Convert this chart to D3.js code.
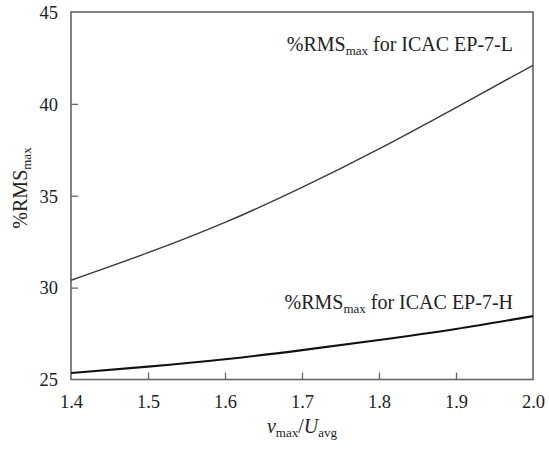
<!DOCTYPE html>
<html>
<head>
<meta charset="utf-8">
<script src="https://cdn.jsdelivr.net/npm/d3@7/dist/d3.min.js"></script>
</head>
<body style="margin:0;padding:0;background:#fff">
<svg id="chart" width="549" height="449" style="display:block"></svg>
<script>
// ---- data ----
const xValues = [1.4, 1.5, 1.6, 1.7, 1.8, 1.9, 2.0];
const seriesL = [30.4, 31.9, 33.55, 35.45, 37.55, 39.8, 42.1];  // ICAC EP-7-L
const seriesH = [25.35, 25.7, 26.1, 26.6, 27.15, 27.75, 28.45]; // ICAC EP-7-H
const xTicks = [1.4, 1.5, 1.6, 1.7, 1.8, 1.9, 2.0];
const yTicks = [25, 30, 35, 40, 45];

const FONT = "Liberation Serif";
const svg = d3.select("#chart");
const mLeft = 71, mRight = 533, mTop = 12, mBottom = 379.5;

const x = d3.scaleLinear().domain([1.4, 2.0]).range([mLeft, mRight]);
const y = d3.scaleLinear().domain([25, 45]).range([mBottom, mTop]);

const frameColor = "#666";

// axes (ticks inward)
const xAxis = d3.axisBottom(x).tickValues(xTicks).tickFormat(d3.format(".1f")).tickSizeInner(-7).tickSizeOuter(0).tickPadding(15);
const yAxis = d3.axisLeft(y).tickValues(yTicks).tickFormat(d3.format("d")).tickSizeInner(-7).tickSizeOuter(0).tickPadding(13);

const gx = svg.append("g").attr("transform", `translate(0,${mBottom})`).call(xAxis);
const gy = svg.append("g").attr("transform", `translate(${mLeft},0)`).call(yAxis);
[gx, gy].forEach(g => {
  g.attr("font-family", FONT).attr("font-size", 18.5);
  g.select(".domain").remove();
  g.selectAll(".tick line").attr("stroke", frameColor).attr("stroke-width", 1.3);
  g.selectAll(".tick text").attr("fill", "#222").style("font-family", FONT).style("font-size", "18.5px");
});
// no tick marks at frame corners
gx.selectAll(".tick").filter(d => d === 1.4 || d === 2.0).select("line").remove();
gy.selectAll(".tick").filter(d => d === 25 || d === 45).select("line").remove();
gy.selectAll(".tick text").attr("dy", "0.34em");
gx.selectAll(".tick text").attr("dy", "0.71em");

// frame
svg.append("rect")
  .attr("x", mLeft).attr("y", mTop)
  .attr("width", mRight - mLeft).attr("height", mBottom - mTop)
  .attr("fill", "none").attr("stroke", frameColor).attr("stroke-width", 1.6);

// lines
const line = d3.line().x((d, i) => x(xValues[i])).y(d => y(d)).curve(d3.curveNatural);
svg.append("path").datum(seriesL).attr("d", line)
  .attr("fill", "none").attr("stroke", "#3a3a3a").attr("stroke-width", 1.4);
svg.append("path").datum(seriesH).attr("d", line)
  .attr("fill", "none").attr("stroke", "#111").attr("stroke-width", 2.1);

function txt(sel) {
  return sel.attr("fill", "#222").style("font-family", FONT).style("font-size", "20px");
}

// annotations
function label(xEnd, yBase, suffix) {
  const t = txt(svg.append("text").attr("x", xEnd).attr("y", yBase).attr("text-anchor", "end"));
  t.append("tspan").text("%RMS");
  t.append("tspan").text("max").style("font-size", "13px").attr("dy", 4);
  t.append("tspan").text(" for ICAC " + suffix).attr("dy", -4);
}
label(513, 51, "EP-7-L");
label(513, 309, "EP-7-H");

// x axis title
const xt = txt(svg.append("text").attr("x", 302).attr("y", 433).attr("text-anchor", "middle"));
xt.append("tspan").text("v").style("font-style", "italic");
xt.append("tspan").text("max").style("font-size", "13px").attr("dy", 4);
xt.append("tspan").text("/").attr("dy", -4);
xt.append("tspan").text("U").style("font-style", "italic");
xt.append("tspan").text("avg").style("font-size", "13px").attr("dy", 4);

// y axis title
const yt = txt(svg.append("text").attr("transform", "translate(27,188) rotate(-90)").attr("text-anchor", "middle"));
yt.append("tspan").text("%RMS");
yt.append("tspan").text("max").style("font-size", "13px").attr("dy", 4);
</script>
</body>
</html>
